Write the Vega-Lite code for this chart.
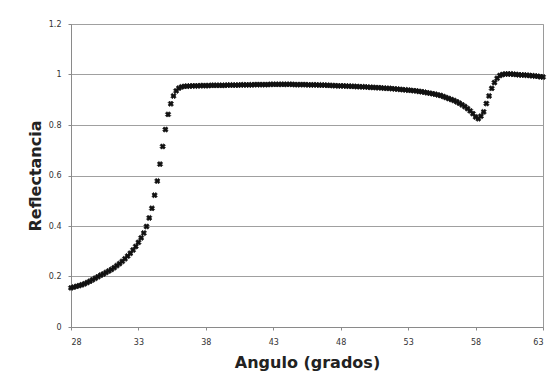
{
  "$schema": "https://vega.github.io/schema/vega-lite/v6.json",
  "width": 472,
  "height": 303,
  "autosize": {"type": "none"},
  "padding": {"left": 71, "top": 24, "right": 9, "bottom": 59},
  "background": "#ffffff",
  "config": {
    "view": {"stroke": "#9a9a9a", "strokeWidth": 1},
    "font": "DejaVu Sans",
    "axis": {
      "labelFont": "DejaVu Sans",
      "labelFontSize": 8,
      "labelColor": "#333333",
      "domainColor": "#8a8a8a",
      "tickColor": "#8a8a8a",
      "tickSize": 3,
      "titleFont": "DejaVu Sans",
      "titleFontSize": 16,
      "titleFontWeight": "bold",
      "titleColor": "#222222"
    }
  },
  "data": {
    "values": [
      {"angulo": 28.0, "r": 0.155}, {"angulo": 28.2, "r": 0.158}, {"angulo": 28.4, "r": 0.161}, {"angulo": 28.6, "r": 0.164},
      {"angulo": 28.8, "r": 0.167}, {"angulo": 29.0, "r": 0.171}, {"angulo": 29.2, "r": 0.176}, {"angulo": 29.4, "r": 0.181},
      {"angulo": 29.6, "r": 0.187}, {"angulo": 29.8, "r": 0.193}, {"angulo": 30.0, "r": 0.199}, {"angulo": 30.2, "r": 0.205},
      {"angulo": 30.4, "r": 0.210}, {"angulo": 30.6, "r": 0.216}, {"angulo": 30.8, "r": 0.222}, {"angulo": 31.0, "r": 0.228},
      {"angulo": 31.2, "r": 0.235}, {"angulo": 31.4, "r": 0.243}, {"angulo": 31.6, "r": 0.251}, {"angulo": 31.8, "r": 0.260},
      {"angulo": 32.0, "r": 0.270}, {"angulo": 32.2, "r": 0.281}, {"angulo": 32.4, "r": 0.292}, {"angulo": 32.6, "r": 0.305},
      {"angulo": 32.8, "r": 0.319}, {"angulo": 33.0, "r": 0.335}, {"angulo": 33.2, "r": 0.353}, {"angulo": 33.4, "r": 0.372},
      {"angulo": 33.6, "r": 0.398}, {"angulo": 33.8, "r": 0.432}, {"angulo": 34.0, "r": 0.470}, {"angulo": 34.2, "r": 0.522},
      {"angulo": 34.4, "r": 0.578}, {"angulo": 34.6, "r": 0.645}, {"angulo": 34.8, "r": 0.715}, {"angulo": 35.0, "r": 0.782},
      {"angulo": 35.2, "r": 0.842}, {"angulo": 35.4, "r": 0.884}, {"angulo": 35.6, "r": 0.915}, {"angulo": 35.8, "r": 0.935},
      {"angulo": 36.0, "r": 0.946}, {"angulo": 36.2, "r": 0.951}, {"angulo": 36.4, "r": 0.953}, {"angulo": 36.6, "r": 0.954},
      {"angulo": 36.8, "r": 0.954}, {"angulo": 37.0, "r": 0.955}, {"angulo": 37.2, "r": 0.955}, {"angulo": 37.4, "r": 0.955},
      {"angulo": 37.6, "r": 0.956}, {"angulo": 37.8, "r": 0.956}, {"angulo": 38.0, "r": 0.956}, {"angulo": 38.2, "r": 0.956},
      {"angulo": 38.4, "r": 0.957}, {"angulo": 38.6, "r": 0.957}, {"angulo": 38.8, "r": 0.957}, {"angulo": 39.0, "r": 0.957},
      {"angulo": 39.2, "r": 0.957}, {"angulo": 39.4, "r": 0.957}, {"angulo": 39.6, "r": 0.958}, {"angulo": 39.8, "r": 0.958},
      {"angulo": 40.0, "r": 0.958}, {"angulo": 40.2, "r": 0.958}, {"angulo": 40.4, "r": 0.958}, {"angulo": 40.6, "r": 0.959},
      {"angulo": 40.8, "r": 0.959}, {"angulo": 41.0, "r": 0.959}, {"angulo": 41.2, "r": 0.959}, {"angulo": 41.4, "r": 0.959},
      {"angulo": 41.6, "r": 0.960}, {"angulo": 41.8, "r": 0.960}, {"angulo": 42.0, "r": 0.960}, {"angulo": 42.2, "r": 0.960},
      {"angulo": 42.4, "r": 0.960}, {"angulo": 42.6, "r": 0.960}, {"angulo": 42.8, "r": 0.961}, {"angulo": 43.0, "r": 0.961},
      {"angulo": 43.2, "r": 0.961}, {"angulo": 43.4, "r": 0.961}, {"angulo": 43.6, "r": 0.961}, {"angulo": 43.8, "r": 0.961},
      {"angulo": 44.0, "r": 0.961}, {"angulo": 44.2, "r": 0.961}, {"angulo": 44.4, "r": 0.961}, {"angulo": 44.6, "r": 0.960},
      {"angulo": 44.8, "r": 0.960}, {"angulo": 45.0, "r": 0.960}, {"angulo": 45.2, "r": 0.960}, {"angulo": 45.4, "r": 0.960},
      {"angulo": 45.6, "r": 0.959}, {"angulo": 45.8, "r": 0.959}, {"angulo": 46.0, "r": 0.959}, {"angulo": 46.2, "r": 0.959},
      {"angulo": 46.4, "r": 0.958}, {"angulo": 46.6, "r": 0.958}, {"angulo": 46.8, "r": 0.958}, {"angulo": 47.0, "r": 0.957},
      {"angulo": 47.2, "r": 0.957}, {"angulo": 47.4, "r": 0.956}, {"angulo": 47.6, "r": 0.956}, {"angulo": 47.8, "r": 0.955},
      {"angulo": 48.0, "r": 0.955}, {"angulo": 48.2, "r": 0.955}, {"angulo": 48.4, "r": 0.954}, {"angulo": 48.6, "r": 0.954},
      {"angulo": 48.8, "r": 0.953}, {"angulo": 49.0, "r": 0.953}, {"angulo": 49.2, "r": 0.952}, {"angulo": 49.4, "r": 0.952},
      {"angulo": 49.6, "r": 0.951}, {"angulo": 49.8, "r": 0.951}, {"angulo": 50.0, "r": 0.950}, {"angulo": 50.2, "r": 0.949},
      {"angulo": 50.4, "r": 0.949}, {"angulo": 50.6, "r": 0.948}, {"angulo": 50.8, "r": 0.948}, {"angulo": 51.0, "r": 0.947},
      {"angulo": 51.2, "r": 0.946}, {"angulo": 51.4, "r": 0.945}, {"angulo": 51.6, "r": 0.945}, {"angulo": 51.8, "r": 0.944},
      {"angulo": 52.0, "r": 0.943}, {"angulo": 52.2, "r": 0.942}, {"angulo": 52.4, "r": 0.941}, {"angulo": 52.6, "r": 0.940},
      {"angulo": 52.8, "r": 0.939}, {"angulo": 53.0, "r": 0.938}, {"angulo": 53.2, "r": 0.937}, {"angulo": 53.4, "r": 0.936},
      {"angulo": 53.6, "r": 0.935}, {"angulo": 53.8, "r": 0.933}, {"angulo": 54.0, "r": 0.932}, {"angulo": 54.2, "r": 0.930},
      {"angulo": 54.4, "r": 0.928}, {"angulo": 54.6, "r": 0.926}, {"angulo": 54.8, "r": 0.924}, {"angulo": 55.0, "r": 0.922},
      {"angulo": 55.2, "r": 0.919}, {"angulo": 55.4, "r": 0.917}, {"angulo": 55.6, "r": 0.913}, {"angulo": 55.8, "r": 0.909},
      {"angulo": 56.0, "r": 0.905}, {"angulo": 56.2, "r": 0.901}, {"angulo": 56.4, "r": 0.897}, {"angulo": 56.6, "r": 0.892},
      {"angulo": 56.8, "r": 0.886}, {"angulo": 57.0, "r": 0.880}, {"angulo": 57.2, "r": 0.873}, {"angulo": 57.4, "r": 0.865},
      {"angulo": 57.6, "r": 0.856}, {"angulo": 57.8, "r": 0.845}, {"angulo": 58.0, "r": 0.832}, {"angulo": 58.2, "r": 0.825},
      {"angulo": 58.4, "r": 0.835}, {"angulo": 58.6, "r": 0.852}, {"angulo": 58.8, "r": 0.885}, {"angulo": 59.0, "r": 0.915},
      {"angulo": 59.2, "r": 0.945}, {"angulo": 59.4, "r": 0.968}, {"angulo": 59.6, "r": 0.985}, {"angulo": 59.8, "r": 0.996},
      {"angulo": 60.0, "r": 1.000}, {"angulo": 60.2, "r": 1.002}, {"angulo": 60.4, "r": 1.002}, {"angulo": 60.6, "r": 1.002},
      {"angulo": 60.8, "r": 1.001}, {"angulo": 61.0, "r": 1.000}, {"angulo": 61.2, "r": 0.999}, {"angulo": 61.4, "r": 0.998},
      {"angulo": 61.6, "r": 0.998}, {"angulo": 61.8, "r": 0.997}, {"angulo": 62.0, "r": 0.996}, {"angulo": 62.2, "r": 0.995},
      {"angulo": 62.4, "r": 0.994}, {"angulo": 62.6, "r": 0.993}, {"angulo": 62.8, "r": 0.991}, {"angulo": 63.0, "r": 0.990}
    ]
  },
  "mark": {
    "type": "point",
    "shape": "cross",
    "angle": 45,
    "filled": true,
    "size": 30,
    "color": "#111111",
    "stroke": "#111111",
    "strokeWidth": 0.6,
    "opacity": 1
  },
  "encoding": {
    "x": {
      "field": "angulo",
      "type": "quantitative",
      "title": "Angulo (grados)",
      "scale": {"domain": [28, 63], "nice": false, "zero": false},
      "axis": {
        "values": [28, 33, 38, 43, 48, 53, 58, 63],
        "grid": false,
        "labelPadding": 8,
        "titlePadding": 8
      }
    },
    "y": {
      "field": "r",
      "type": "quantitative",
      "title": "Reflectancia",
      "scale": {"domain": [0, 1.2], "nice": false},
      "axis": {
        "values": [0, 0.2, 0.4, 0.6, 0.8, 1, 1.2],
        "format": "~g",
        "grid": true,
        "gridColor": "#a0a0a0",
        "gridWidth": 1,
        "labelPadding": 7,
        "titlePadding": 5
      }
    }
  }
}
